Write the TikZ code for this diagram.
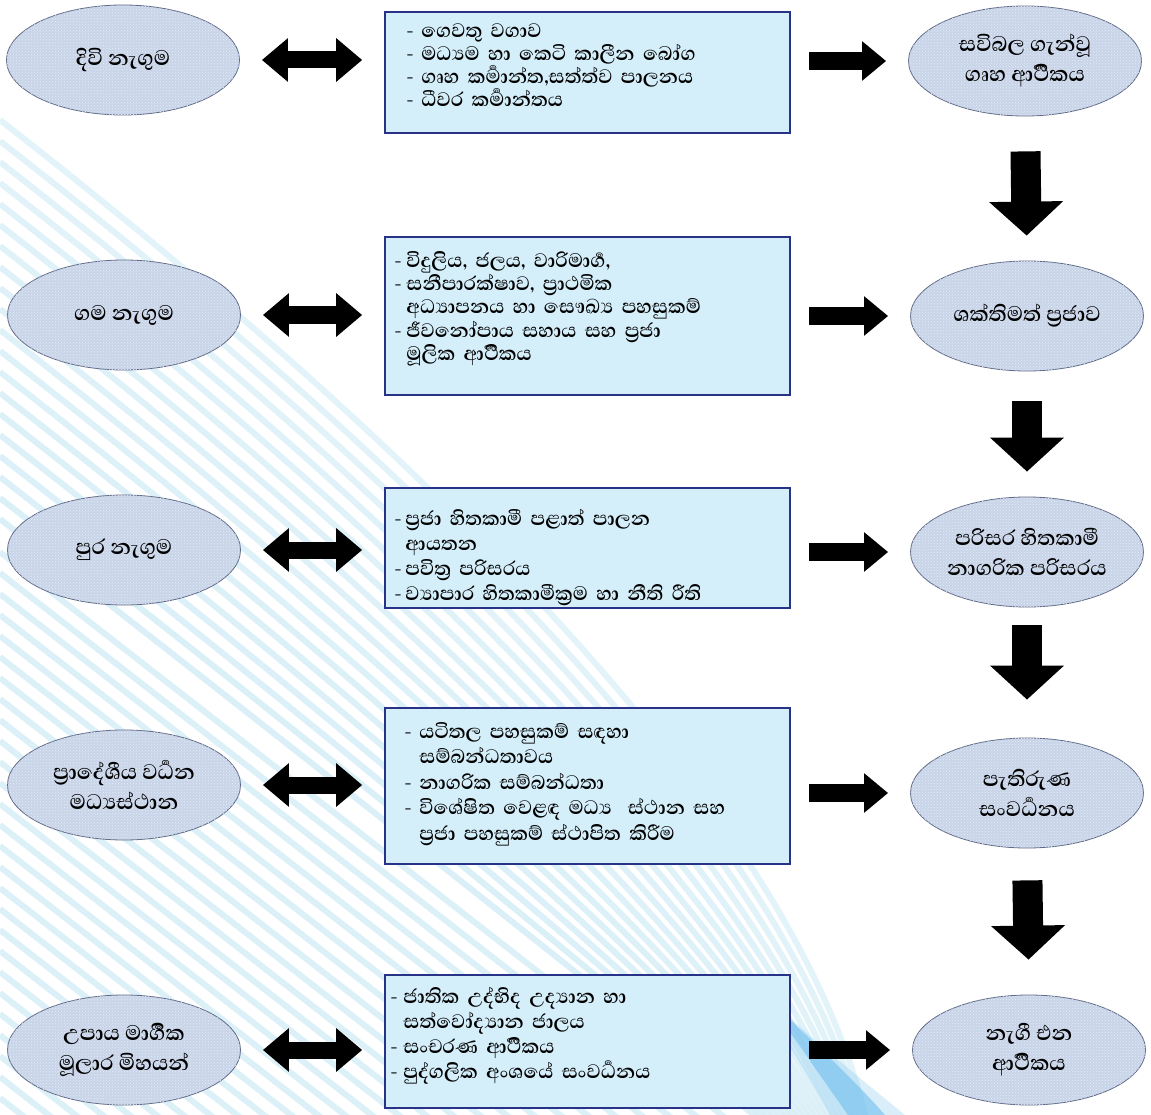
\documentclass[tikz,border=0pt]{standalone}
\usepackage{fontspec}
\newfontfamily\sinhalafont[Script=Sinhala]{Abhaya Libre}
\usetikzlibrary{shapes.geometric,arrows.meta,patterns,calc}
\definecolor{boxfill}{RGB}{212,238,250}
\definecolor{boxdraw}{RGB}{40,50,135}
\definecolor{ellfill}{RGB}{200,212,232}
\definecolor{elldraw}{RGB}{95,105,135}
\definecolor{stripe}{RGB}{214,238,247}
\definecolor{glow}{RGB}{110,190,238}
\newlength\dashw
\newcommand\itemdash{\makebox[\dashw][l]{-}}
\newcommand\contind{\hspace*{\dashw}}
\newcommand\firststrut{\rule{0pt}{24pt}}
\begin{document}
\begin{tikzpicture}[x=1pt,y=-1pt,
  oval/.style={ellipse, draw=elldraw, line width=0.8pt, fill=ellfill,
    postaction={pattern=crosshatch dots, pattern color=white!55!ellfill},
    minimum width=233pt, minimum height=110pt, inner sep=0pt, align=center,
    font=\sinhalafont\bfseries\fontsize{27}{30}\selectfont},
  infobox/.style={rectangle, draw=boxdraw, line width=1.6pt, fill=boxfill,
    minimum width=405pt, inner sep=0pt},
  boxtext/.style={anchor=north west, inner sep=0pt, text width=380pt, align=left},
  dbl/.style={line width=17pt, {Triangle[width=42pt,length=26pt]}-{Triangle[width=42pt,length=26pt]}},
  fwd/.style={line width=18pt, -{Triangle[width=38pt,length=24pt]}},
  down/.style={line width=30pt, -{Triangle[width=72pt,length=34pt]}},
]
\useasboundingbox (0,0) rectangle (1151,1115);
\fill[white] (0,0) rectangle (1151,1115);
\begin{scope}
\clip (0,0) rectangle (1151,1115);
\foreach \i in {0,...,19} {
  \pgfmathsetmacro\ys{120+21*\i}
  \pgfmathsetmacro\s{(530-\ys)/410}
  \pgfmathsetmacro\xe{808+(530-\ys)*0.16}
  \pgfmathsetmacro\H{1160-\ys}
  \pgfmathsetmacro\ka{(0.33+0.17*\s)*\xe}
  \pgfmathsetmacro\kb{(0.3-0.25*\s)*\xe}
  \pgfmathsetmacro\op{0.7+0.01*\i}
  \draw[stripe, line width=6pt, opacity=\op] (0,\ys) .. controls +(\ka,{0.78*\ka}) and +(-\kb,{-0.3*\H}) .. (\xe,1160);
}
\foreach \i in {0,...,27} {
  \pgfmathsetmacro\ys{552+21*\i}
  \pgfmathsetmacro\xb{(1160-\ys)/0.78}
  \draw[stripe, line width=6pt, opacity=0.85] (0,\ys) -- (\xb,1160);
}
\fill[glow, opacity=0.25] (745,975) .. controls (800,1030) and (850,1070) .. (905,1115) -- (830,1115) .. controls (805,1070) and (780,1030) .. (745,975) -- cycle;
\fill[glow, opacity=0.6] (765,995) .. controls (810,1040) and (850,1075) .. (885,1115) -- (848,1115) .. controls (820,1075) and (795,1040) .. (765,995) -- cycle;
\end{scope}

% left ellipses
\node[oval] (L1) at (123,60) {දිවි නැගුම};
\node[oval] (L2) at (124,315) {ගම නැගුම};
\node[oval] (L3) at (124,550) {පුර නැගුම};
\node[oval] (L4) at (124,785) {ප්^^^^200dරාදේශීය වර්^^^^200dධන\\මධ්^^^^200dයස්ථාන};
\node[oval] (L5) at (124,1050) {උපාය මාර්^^^^200dගික\\මූලාර මිහයන්};

% right ellipses
\node[oval] (R1) at (1025,61) {සවිබල ගැන්වූ\\ගෘහ ආර්^^^^200dථිකය};
\node[oval] (R2) at (1027,316) {ශක්තිමත් ප්^^^^200dරජාව};
\node[oval] (R3) at (1027,552) {පරිසර හිතකාමී\\නාගරික පරිසරය};
\node[oval] (R4) at (1027,793) {පැතිරුණ\\සංවර්^^^^200dධනය};
\node[oval] (R5) at (1029,1050) {නැගී එන\\ආර්^^^^200dථිකය};

% boxes
\node[infobox, minimum height=121pt] (B1) at (587.5,72.5) {};
\node[infobox, minimum height=158pt] (B2) at (587.5,316) {};
\node[infobox, minimum height=120pt] (B3) at (587.5,548) {};
\node[infobox, minimum height=156pt] (B4) at (587.5,786) {};
\node[infobox, minimum height=133pt] (B5) at (587.5,1041.5) {};

% box texts
\node[boxtext, font=\sinhalafont\bfseries\fontsize{25}{23}\selectfont] (T1) at ($(B1.north west)+(22,2)$) {\setlength\dashw{15pt}\firststrut\itemdash ගෙවතු වගාව\\
\itemdash මධ්^^^^200dයම හා කෙටි කාලීන බෝග\\
\itemdash ගෘහ කර්^^^^200dමාන්ත,සත්ත්ව පාලනය\\
\itemdash ධීවර කර්^^^^200dමාන්තය};
\node[boxtext, font=\sinhalafont\bfseries\fontsize{25}{23.3}\selectfont] (T2) at ($(B2.north west)+(10,7)$) {\setlength\dashw{12pt}\firststrut\itemdash විදුලිය, ජලය, වාරිමාර්^^^^200dග,\\
\itemdash සනීපාරක්ෂාව, ප්^^^^200dරාථමික\\
\contind අධ්^^^^200dයාපනය හා සෞඛ්^^^^200dය පහසුකම්\\
\itemdash ජීවනෝපාය සහාය සහ ප්^^^^200dරජා\\
\contind මූලික ආර්^^^^200dථිකය};
\node[boxtext, font=\sinhalafont\bfseries\fontsize{25}{25}\selectfont] (T3) at ($(B3.north west)+(10,14)$) {\setlength\dashw{11pt}\firststrut\itemdash ප්^^^^200dරජා හිතකාමී පළාත් පාලන\\
\contind ආයතන\\
\itemdash පවිත්^^^^200dර පරිසරය\\
\itemdash ව්^^^^200dයාපාර හිතකාමීක්^^^^200dරම හා නීති රීති};
\node[boxtext, font=\sinhalafont\bfseries\fontsize{25}{25.5}\selectfont] (T4) at ($(B4.north west)+(20,7)$) {\setlength\dashw{15pt}\firststrut\itemdash යටිතල පහසුකම් සඳහා\\
\contind සම්බන්ධතාවය\\
\itemdash නාගරික සම්බන්ධතා\\
\itemdash විශේෂිත වෙළඳ මධ්^^^^200dය\hspace{16pt}ස්ථාන සහ\\
\contind ප්^^^^200dරජා පහසුකම් ස්ථාපිත කිරීම};
\node[boxtext, font=\sinhalafont\bfseries\fontsize{25}{25}\selectfont] (T5) at ($(B5.north west)+(6,5)$) {\setlength\dashw{13pt}\firststrut\itemdash ජාතික උද්භිද උද්^^^^200dයාන හා\\
\contind සත්වෝද්^^^^200dයාන ජාලය\\
\itemdash සංචරණ ආර්^^^^200dථිකය\\
\itemdash පුද්ගලික අංශයේ සංවර්^^^^200dධනය};

% double arrows and forward arrows
\foreach \r in {1,...,5} {
  \draw[dbl, shorten <=22pt, shorten >=22pt] (L\r.east) -- (B\r.west |- L\r.east);
  \draw[fwd, shorten <=18pt, shorten >=22pt] (B\r.east |- R\r.west) -- (R\r.west);
}
% down arrows
\draw[down, shorten <=35pt, shorten >=25pt] (R1.south) -- (R2.north);
\draw[down, shorten <=30pt, shorten >=25pt] (R2.south) -- (R3.north);
\draw[down, shorten <=18pt, shorten >=38pt] (R3.south) -- (R4.north);
\draw[down, shorten <=32pt, shorten >=35pt] (R4.south) -- (R5.north);
\end{tikzpicture}
\end{document}
